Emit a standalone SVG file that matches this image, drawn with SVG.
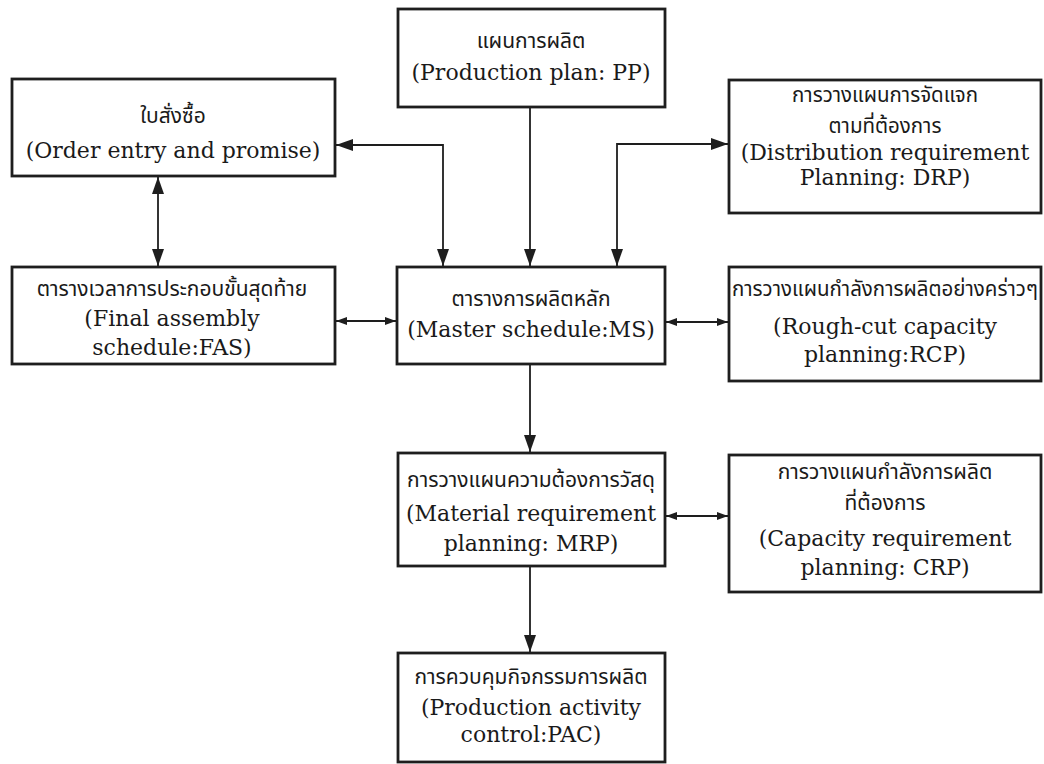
<svg xmlns="http://www.w3.org/2000/svg" width="1044" height="764" viewBox="0 0 1044 764">
<style>
.box{fill:#ffffff;stroke:#1e1e1e;stroke-width:2.8}
.en{font-family:"DejaVu Serif","Liberation Serif",serif;font-size:22px;fill:#1a1a1a;text-anchor:middle}
.th{font-family:"Noto Sans Thai","Noto Sans","Loma",sans-serif;font-size:21px;fill:#1a1a1a;text-anchor:middle}
.c{fill:none;stroke:#1e1e1e;stroke-width:1.8}
.big{marker-end:url(#ab)}
.bigb{marker-start:url(#ab);marker-end:url(#ab)}
.sm{marker-start:url(#as);marker-end:url(#as)}
</style>
<defs>
<marker id="ab" viewBox="0 0 17 12" refX="17" refY="6" markerWidth="17" markerHeight="12" markerUnits="userSpaceOnUse" orient="auto-start-reverse">
<path d="M0,0 L17,6 L0,12 z" fill="#1e1e1e"/>
</marker>
<marker id="as" viewBox="0 0 11 8" refX="11" refY="4" markerWidth="11" markerHeight="8" markerUnits="userSpaceOnUse" orient="auto-start-reverse">
<path d="M0,0 L11,4 L0,8 z" fill="#1e1e1e"/>
</marker>
</defs>
<rect width="1044" height="764" fill="#ffffff"/>
<g id="connectors">
<line class="c big" x1="530" y1="107" x2="530" y2="266"/>
<path class="c bigb" d="M443,266 L443,145 L336,145"/>
<line class="c bigb" x1="158" y1="177" x2="158" y2="266"/>
<path class="c bigb" d="M617,266 L617,144 L728,144"/>
<line class="c sm" x1="336" y1="321" x2="396" y2="321"/>
<line class="c sm" x1="666" y1="322" x2="728" y2="322"/>
<line class="c big" x1="530" y1="364" x2="530" y2="452"/>
<line class="c sm" x1="666" y1="516" x2="728" y2="516"/>
<line class="c big" x1="530" y1="566" x2="530" y2="652"/>
</g>
<g id="pp">
<rect class="box" x="398" y="9" width="267" height="98"/>
<text class="th" x="531" y="48">แผนการผลิต</text>
<text class="en" x="531" y="80">(Production plan: PP)</text>
</g>
<g id="order">
<rect class="box" x="12" y="79" width="323" height="97"/>
<text class="th" x="173" y="123">ใบสั่งซื้อ</text>
<text class="en" x="173" y="158">(Order entry and promise)</text>
</g>
<g id="drp">
<rect class="box" x="729" y="80" width="312" height="133"/>
<text class="th" x="885" y="102" style="font-size:20.5px">การวางแผนการจัดแจก</text>
<text class="th" x="885" y="133" style="font-size:20.5px">ตามที่ต้องการ</text>
<text class="en" x="885" y="160">(Distribution requirement</text>
<text class="en" x="885" y="185">Planning: DRP)</text>
</g>
<g id="fas">
<rect class="box" x="12" y="267" width="323" height="97"/>
<text class="th" x="172" y="296">ตารางเวลาการประกอบขั้นสุดท้าย</text>
<text class="en" x="172" y="326">(Final assembly</text>
<text class="en" x="172" y="355">schedule:FAS)</text>
</g>
<g id="ms">
<rect class="box" x="397" y="267" width="268" height="97"/>
<text class="th" x="531" y="306">ตารางการผลิตหลัก</text>
<text class="en" x="531" y="337">(Master schedule:MS)</text>
</g>
<g id="rcp">
<rect class="box" x="729" y="267" width="312" height="114"/>
<text class="th" x="885" y="296" style="font-size:20.5px">การวางแผนกำลังการผลิตอย่างคร่าวๆ</text>
<text class="en" x="885" y="334">(Rough-cut capacity</text>
<text class="en" x="885" y="362">planning:RCP)</text>
</g>
<g id="mrp">
<rect class="box" x="398" y="453" width="267" height="113"/>
<text class="th" x="531" y="487">การวางแผนความต้องการวัสดุ</text>
<text class="en" x="531" y="521">(Material requirement</text>
<text class="en" x="531" y="551">planning: MRP)</text>
</g>
<g id="crp">
<rect class="box" x="729" y="455" width="312" height="137"/>
<text class="th" x="885" y="479">การวางแผนกำลังการผลิต</text>
<text class="th" x="885" y="510">ที่ต้องการ</text>
<text class="en" x="885" y="546">(Capacity requirement</text>
<text class="en" x="885" y="575">planning: CRP)</text>
</g>
<g id="pac">
<rect class="box" x="398" y="653" width="267" height="109"/>
<text class="th" x="531" y="684">การควบคุมกิจกรรมการผลิต</text>
<text class="en" x="531" y="715">(Production activity</text>
<text class="en" x="531" y="742">control:PAC)</text>
</g>
</svg>
